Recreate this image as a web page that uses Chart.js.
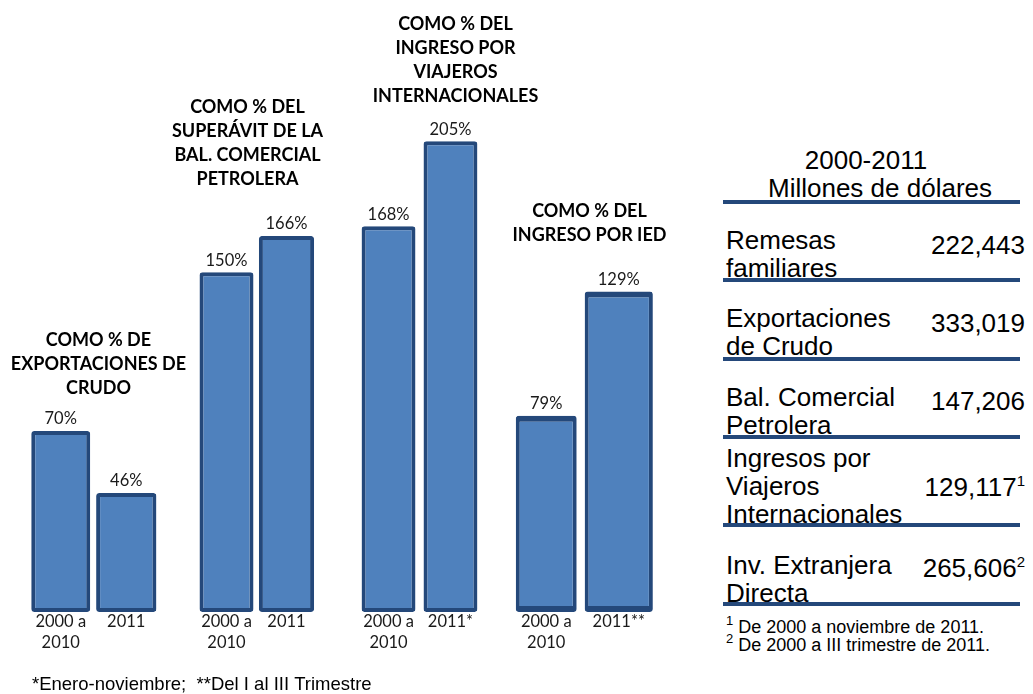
<!DOCTYPE html>
<html>
<head>
<meta charset="utf-8">
<script src="https://cdn.jsdelivr.net/npm/chart.js@4.4.1/dist/chart.umd.min.js"></script>
<style>
  body { margin: 0; background: #fff; }
  #wrap { position: relative; width: 1033px; height: 694px; overflow: hidden; }
  #c { position: absolute; left: 0; top: 0; }
  .t { position: absolute; font-family: "Liberation Sans", Arial, sans-serif; color: #000; white-space: nowrap; }
  .big { font-size: 26px; line-height: 28px; }
  .rule { position: absolute; left: 723px; width: 297px; height: 4px; background: #24487a; }
  .note { font-size: 18px; line-height: 18px; }
  sup { font-size: 15px; line-height: 0; vertical-align: 10px; }
  .note sup { font-size: 13px; vertical-align: 8px; }
</style>
</head>
<body>
<div id="wrap">
  <canvas id="c" width="680" height="694"></canvas>
</div>
<script>
// group titles (one entry per group, broken into lines)
const groupTitles = [
    ['COMO % DE', 'EXPORTACIONES DE', 'CRUDO'],
    ['COMO % DEL', 'SUPERÁVIT DE LA', 'BAL. COMERCIAL', 'PETROLERA'],
    ['COMO % DEL', 'INGRESO POR', 'VIAJEROS', 'INTERNACIONALES'],
    ['COMO % DEL', 'INGRESO POR IED']
];
const pct2000 = [70, 150, 168, 79];
const pct2011 = [46, 166, 205, 129];
const periodLabels2000 = ['2000 a', '2010'];
const periodLabels2011 = ['2011', '2011', '2011*', '2011**'];

// side table
const tableItems = [
    ['Remesas', 'familiares'],
    ['Exportaciones', 'de Crudo'],
    ['Bal. Comercial', 'Petrolera'],
    ['Ingresos por', 'Viajeros', 'Internacionales'],
    ['Inv. Extranjera', 'Directa']
];
const tableValues = ['222,443', '333,019', '147,206', '129,117', '265,606'];
const tableMarks = ['', '', '', '1', '2'];
const tableNotes = ['De 2000 a noviembre de 2011.', 'De 2000 a III trimestre de 2011.'];
const footNote = '*Enero-noviembre;  **Del I al III Trimestre';

// each group was its own little chart with its own scale and bar widths
const axisMax = [198, 226, 223, 206];
const catPct = [0.804, 0.736, 0.76, 0.89];
const barPct = [[0.9, 0.9, 0.87, 0.84], [0.92, 0.92, 0.87, 0.94]];
const titleDx = [5, -9, 36, 7];
const titleGap = [43, 57, 45, 56];

const datasets = [];
for (let g = 0; g < 4; g++) {
    [pct2000, pct2011].forEach((serie, s) => {
        const data = [null, null, null, null];
        data[g] = serie[g];
        datasets.push({
            label: s === 0 ? '2000 a 2010' : '2011',
            data: data,
            yAxisID: 'y' + g,
            skipNull: true,
            categoryPercentage: catPct[g],
            barPercentage: barPct[s][g],
            backgroundColor: '#4f81bd',
            borderColor: '#24487a',
            borderWidth: g === 3 ? { left: 4, right: 4, top: 6, bottom: 6 } : 4,
            borderSkipped: false,
            borderRadius: 3
        });
    });
}

const scales = { x: { display: false } };
axisMax.forEach((m, g) => {
    scales['y' + g] = { type: 'linear', display: false, min: 0, max: m };
});

const barLabels = {
    id: 'barLabels',
    afterDatasetsDraw(chart) {
        const ctx = chart.ctx;
        const bottom = chart.chartArea.bottom;
        ctx.save();
        ctx.textAlign = 'center';
        ctx.textBaseline = 'middle';
        for (let g = 0; g < 4; g++) {
            const a = chart.getDatasetMeta(g * 2).data[g];
            const b = chart.getDatasetMeta(g * 2 + 1).data[g];
            ctx.font = '16.5px Lato';
            ctx.fillStyle = '#1a1a1a';
            ctx.fillText(pct2000[g] + '%', a.x, a.y - 12);
            ctx.fillText(pct2011[g] + '%', b.x, b.y - 12);
            periodLabels2000.forEach((t, i) => ctx.fillText(t, a.x, bottom + 10 + i * 21));
            ctx.fillText(periodLabels2011[g], b.x, bottom + 10);

            ctx.font = 'bold 18px Lato';
            ctx.fillStyle = '#000';
            const lines = groupTitles[g];
            const last = Math.min(a.y, b.y) - titleGap[g];
            const cx = (a.x + b.x) / 2 + titleDx[g];
            lines.forEach((t, i) => ctx.fillText(t, cx, last - (lines.length - 1 - i) * 24));
        }
        ctx.font = '18.5px "Liberation Sans", Arial';
        ctx.textAlign = 'left';
        ctx.fillStyle = '#000';
        ctx.fillText(footNote, 32, 685);
        ctx.restore();
    }
};

new Chart(document.getElementById('c').getContext('2d'), {
    type: 'bar',
    data: { labels: ['g1', 'g2', 'g3', 'g4'], datasets: datasets },
    options: {
        responsive: false,
        animation: false,
        layout: { padding: { left: 12, right: 16, top: 100, bottom: 82 } },
        scales: scales,
        plugins: { legend: { display: false }, tooltip: { enabled: false } }
    },
    plugins: [barLabels]
});

// table on the right
const wrap = document.getElementById('wrap');
function add(html, css, cls) {
    const d = document.createElement('div');
    d.className = 't ' + (cls || '');
    d.innerHTML = html;
    Object.assign(d.style, css);
    wrap.appendChild(d);
    return d;
}
function rule(top) {
    const r = document.createElement('div');
    r.className = 'rule';
    r.style.top = top + 'px';
    wrap.appendChild(r);
}
add('2000-2011', { left: '716px', top: '146px', width: '300px', textAlign: 'center' }, 'big');
add('Millones de dólares', { left: '730px', top: '174px', width: '300px', textAlign: 'center' }, 'big');
rule(200);

const rowTops = [226, 304, 383, 444, 551];
const valTops = [231, 309, 387, 473, 554];
const ruleTops = [278, 357, 435, 523, 602];
tableItems.forEach((lines, i) => {
    add(lines.join('<br>'), { left: '726px', top: rowTops[i] + 'px' }, 'big');
    const mark = tableMarks[i] ? '<sup>' + tableMarks[i] + '</sup>' : '';
    add(tableValues[i] + mark, { right: (1033 - 1025) + 'px', top: valTops[i] + 'px', textAlign: 'right' }, 'big');
    rule(ruleTops[i]);
});
tableNotes.forEach((t, i) => {
    add('<sup>' + (i + 1) + '</sup> ' + t, { left: '726px', top: (618 + i * 18) + 'px' }, 'note');
});
</script>
</body>
</html>
